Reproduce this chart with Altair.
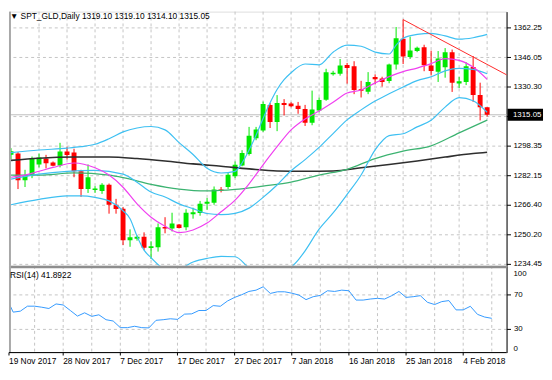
import altair as alt
import pandas as pd

# ---------------- data ----------------
opens = [1293.4, 1294.1, 1279.7, 1282.4, 1288.2, 1291.4, 1289.3, 1287.7, 1295.2, 1294.6,
         1284.5, 1274.9, 1274.4, 1273.9, 1277.3, 1266.4, 1264.3, 1247.2, 1248.0, 1249.1,
         1243.0, 1243.5, 1254.4, 1253.6, 1255.7, 1254.2, 1261.3, 1261.9, 1266.9, 1267.5,
         1274.7, 1276.0, 1281.8, 1287.7, 1293.8, 1302.3, 1306.6, 1320.4, 1311.1, 1321.4,
         1321.2, 1320.0, 1318.2, 1310.8, 1317.3, 1323.2, 1337.0, 1337.2, 1342.0, 1341.3,
         1328.9, 1327.5, 1335.5, 1334.6, 1333.3, 1342.2, 1356.1, 1346.3, 1349.5, 1351.6,
         1341.7, 1338.3, 1340.7, 1348.9, 1331.9, 1332.8, 1340.9, 1325.7, 1319.1]
highs = [1297.0, 1294.9, 1285.3, 1292.5, 1294.1, 1293.4, 1289.8, 1299.9, 1297.8, 1296.7,
         1285.3, 1288.2, 1276.5, 1278.1, 1277.9, 1269.6, 1265.1, 1253.1, 1249.9, 1251.5,
         1246.7, 1256.3, 1259.7, 1262.1, 1256.0, 1264.0, 1264.8, 1268.5, 1270.1, 1276.3,
         1276.0, 1283.7, 1289.8, 1295.9, 1308.5, 1308.5, 1322.2, 1321.4, 1325.7, 1323.5,
         1321.8, 1322.0, 1320.4, 1328.1, 1324.4, 1339.9, 1338.8, 1345.2, 1343.1, 1344.0,
         1333.4, 1338.1, 1336.9, 1335.6, 1342.7, 1362.5, 1366.5, 1357.3, 1351.9, 1352.9,
         1349.7, 1349.5, 1351.1, 1350.3, 1335.6, 1343.4, 1346.8, 1332.4, 1319.1]
lows = [1291.0, 1274.9, 1276.0, 1280.8, 1286.6, 1286.1, 1287.2, 1286.6, 1290.9, 1281.3,
        1270.7, 1272.8, 1272.8, 1272.3, 1261.6, 1261.6, 1244.6, 1243.7, 1247.0, 1241.9,
        1237.1, 1241.1, 1251.0, 1252.0, 1253.6, 1252.6, 1258.9, 1260.5, 1263.7, 1266.4,
        1273.1, 1274.9, 1280.8, 1287.2, 1293.0, 1301.3, 1305.8, 1307.9, 1306.2, 1314.7,
        1319.1, 1315.6, 1309.0, 1309.4, 1316.4, 1322.6, 1336.2, 1336.2, 1331.9, 1326.2,
        1324.4, 1326.2, 1331.6, 1330.3, 1332.1, 1339.5, 1342.5, 1345.2, 1348.9, 1338.6,
        1336.3, 1332.8, 1335.1, 1327.4, 1329.5, 1331.1, 1322.0, 1312.0, 1314.1]
closes = [1295.4, 1279.7, 1282.4, 1291.4, 1291.9, 1288.9, 1287.5, 1295.2, 1293.3, 1284.5,
          1274.9, 1281.3, 1275.2, 1277.3, 1266.4, 1264.1, 1247.2, 1248.8, 1249.1, 1243.2,
          1244.0, 1254.2, 1253.6, 1256.3, 1253.9, 1262.1, 1262.4, 1266.9, 1268.0, 1274.7,
          1274.0, 1282.6, 1288.1, 1294.4, 1303.7, 1307.1, 1320.9, 1311.1, 1321.4, 1320.4,
          1319.6, 1318.2, 1310.8, 1317.9, 1323.1, 1338.1, 1337.8, 1341.7, 1340.4, 1328.5,
          1328.0, 1332.8, 1334.3, 1332.8, 1342.2, 1356.4, 1346.6, 1349.8, 1351.3, 1341.8,
          1338.7, 1345.5, 1348.8, 1332.4, 1333.2, 1341.3, 1325.7, 1319.1, 1315.05]
rsi = [59.4, 49.1, 50.2, 56.0, 56.0, 54.8, 53.3, 58.6, 57.4, 51.0,
       44.5, 48.3, 44.2, 46.0, 40.3, 38.8, 31.1, 31.1, 32.7, 31.1,
       30.8, 39.6, 40.3, 41.4, 40.7, 46.8, 47.1, 51.0, 51.0, 56.7,
       55.9, 62.0, 66.2, 69.3, 73.1, 74.6, 78.5, 70.8, 72.7, 72.7,
       71.1, 68.9, 63.6, 67.0, 68.5, 73.9, 73.1, 74.6, 73.9, 63.1,
       63.1, 64.3, 65.1, 64.3, 68.2, 73.1, 66.2, 67.0, 68.2, 60.5,
       57.9, 61.3, 62.5, 51.7, 51.7, 55.9, 46.5, 43.4, 41.89]

# Bollinger bands (light blue)
ub_i = [0, 4, 8, 10, 12, 14, 16, 18, 20, 22, 24, 26, 28, 30, 32, 33, 34, 35, 36, 37,
        38, 39, 40, 42, 44, 46, 48, 50, 52, 54, 55, 56, 58, 60, 62, 64, 66, 68]
ub_v = [1294.6, 1296.0, 1297.0, 1297.8, 1299.1, 1302.1, 1305.8, 1307.9, 1308.7, 1306.9,
        1300.0, 1293.6, 1286.1, 1283.6, 1284.5, 1289.0, 1296.0, 1304.0, 1313.0, 1321.5,
        1328.7, 1334.0, 1337.8, 1342.5, 1342.0, 1348.9, 1352.7, 1352.1, 1348.9, 1347.9,
        1352.7, 1356.4, 1358.5, 1359.1, 1357.7, 1355.9, 1356.7, 1358.5]
mb_i = [0, 4, 8, 12, 16, 18, 20, 22, 24, 26, 28, 30, 32, 34, 36, 38, 40, 42, 44, 46,
        48, 50, 52, 54, 56, 58, 60, 62, 64, 66, 68]
mb_v = [1280.3, 1283.0, 1284.5, 1285.0, 1283.0, 1278.6, 1273.3, 1270.6, 1266.9, 1264.35,
        1261.7, 1261.1, 1261.8, 1264.6, 1270.4, 1277.1, 1284.8, 1290.8, 1297.4, 1304.9,
        1312.3, 1317.7, 1322.5, 1326.4, 1330.1, 1333.5, 1335.6, 1338.8, 1340.1, 1339.6, 1337.2]
lb_i = [0, 4, 8, 10, 12, 14, 16, 17, 18, 19, 20, 22, 24, 26, 28, 30, 32, 34, 36, 38,
        40, 41, 42, 44, 46, 48, 50, 52, 54, 56, 58, 60, 62, 64, 66, 68]
lb_v = [1266.4, 1269.3, 1271.2, 1271.2, 1270.4, 1268.5, 1263.2, 1258.9, 1249.4, 1241.9,
        1237.8, 1232.0, 1232.0, 1235.5, 1237.4, 1238.5, 1238.3, 1232.3, 1227.8, 1225.5,
        1232.5, 1236.5, 1241.5, 1253.2, 1262.0, 1272.0, 1282.5, 1296.1, 1303.8, 1304.8,
        1308.5, 1312.1, 1319.2, 1324.3, 1322.6, 1316.4]
# fast moving average (magenta)
pk_i = [0, 2, 4, 6, 9, 12, 14, 16, 18, 20, 22, 24, 26, 28, 30, 32, 34, 36, 38, 40,
        42, 44, 46, 48, 50, 52, 54, 56, 58, 60, 62, 64, 66, 68]
pk_v = [1281.3, 1282.4, 1284.5, 1286.6, 1289.0, 1286.4, 1282.45, 1275.9, 1266.9, 1259.7,
        1254.8, 1251.4, 1252.8, 1256.5, 1262.6, 1268.9, 1277.7, 1288.0, 1297.8, 1306.9,
        1312.8, 1317.05, 1321.8, 1326.8, 1328.45, 1332.3, 1335.7, 1338.4, 1340.3, 1342.7,
        1345.4, 1344.45, 1340.85, 1334.2]
# medium moving average (green)
gr_i = [0, 4, 9, 14, 16, 20, 24, 28, 32, 36, 40, 44, 48, 52, 56, 60, 64, 68]
gr_v = [1282.4, 1282.4, 1283.6, 1282.4, 1281.1, 1277.5, 1274.9, 1273.9, 1274.7, 1276.5,
        1278.6, 1282.4, 1285.6, 1291.4, 1295.4, 1298.3, 1305.3, 1312.2]
# slow moving average (dark)
bk_i = [0, 4, 9, 14, 18, 22, 26, 30, 34, 38, 42, 46, 50, 54, 58, 62, 66, 68]
bk_v = [1290.4, 1291.6, 1292.2, 1292.2, 1291.4, 1290.1, 1288.5, 1287.2, 1285.8, 1284.7,
        1284.5, 1284.7, 1286.4, 1288.2, 1290.1, 1292.2, 1294.1, 1294.8]
# red trendline
tl_i = [56, 71]
tl_v = [1366.5, 1336.2]

price_ticks = [1234.45, 1250.20, 1266.40, 1282.15, 1298.35, 1314.20, 1330.30, 1346.05, 1362.25]
date_idx = [0, 8, 16, 24, 32, 40, 48, 56, 64]
date_lbl = ["19 Nov 2017", "28 Nov 2017", "7 Dec 2017", "17 Dec 2017", "27 Dec 2017",
            "7 Jan 2018", "16 Jan 2018", "25 Jan 2018", "4 Feb 2018"]
grid_idx = list(range(4, 69, 4))
bid = 1315.05
header = "\u25BC SPT_GLD,Daily  1319.10 1319.10 1314.10 1315.05"
rsi_header = "RSI(14) 41.8922"

# ---------------- layout ----------------
FONT = "Liberation Sans, Arial, sans-serif"
W, HM, HR = 505, 258, 88
X_DOM = [0.414, 70.07]
P_DOM = [1233.4, 1370.8]
R_DOM = [2.2, 102.8]
GRID = "#C4C4C4"

xscale = alt.Scale(domain=X_DOM, nice=False, zero=False)
pscale = alt.Scale(domain=P_DOM, nice=False, zero=False)
price_axis = alt.Axis(orient="right", values=price_ticks, title=None,
                      labelExpr="(datum.value > 1314 && datum.value < 1315) ? '' : format(datum.value, '.2f')",
                      grid=True, gridDash=[3, 3], gridColor=GRID, domainColor="#000000",
                      tickColor="#000000", tickSize=4, labelPadding=2.5, labelFont=FONT,
                      labelFontSize=8, labelColor="#000000", labelFlush=False,
                      labelOverlap=False, zindex=0)


def X(f):
    return alt.X(f, type="quantitative", scale=xscale, axis=None)


def Y(f):
    return alt.Y(f, type="quantitative", scale=pscale, axis=price_axis)


cdf = pd.DataFrame({"i": list(range(len(opens))), "o": opens, "h": highs, "l": lows, "c": closes})
cdf["dir"] = ["up" if c >= o else "down" for o, c in zip(opens, closes)]
ccol = alt.Color("dir:N", scale=alt.Scale(domain=["up", "down"], range=["#00E800", "#FF0000"]),
                 legend=None)

vgrid = alt.Chart(pd.DataFrame({"i": grid_idx})).mark_rule(
    strokeDash=[3, 3], color=GRID, strokeWidth=1).encode(x=X("i"))
bidline = alt.Chart(pd.DataFrame({"v": [bid]})).mark_rule(color="#BDBDBD").encode(y=Y("v"))
wicks = alt.Chart(cdf).mark_rule(clip=True, strokeWidth=1).encode(
    x=X("i"), y=Y("l"), y2="h", color=ccol)
bodies = alt.Chart(cdf).mark_bar(clip=True, size=5).encode(
    x=X("i"), y=Y("o"), y2="c", color=ccol)


def line(ii, vv, color, width):
    return alt.Chart(pd.DataFrame({"i": ii, "v": vv})).mark_line(
        clip=True, interpolate="monotone", color=color, strokeWidth=width).encode(
        x=X("i"), y=Y("v"))


black = line(bk_i, bk_v, "#2E2E2E", 1.6)
green = line(gr_i, gr_v, "#3CB371", 1.3)
bbu = line(ub_i, ub_v, "#3EC0F2", 1.2)
bbm = line(mb_i, mb_v, "#3EC0F2", 1.2)
bbl = line(lb_i, lb_v, "#3EC0F2", 1.2)
pink = line(pk_i, pk_v, "#F040F0", 1.2)
trend = alt.Chart(pd.DataFrame({"i": tl_i, "v": tl_v})).mark_line(
    clip=True, color="#FF2A2A", strokeWidth=1).encode(x=X("i"), y=Y("v"))

head = alt.Chart(pd.DataFrame({"t": [header]})).mark_text(
    align="left", baseline="top", font=FONT, fontSize=8.5, color="#000000").encode(
    text="t:N", x=alt.value(1), y=alt.value(0.5))
box = alt.Chart(pd.DataFrame({"lo": [bid - 3.2], "hi": [bid + 3.2]})).mark_rect(
    color="#000000").encode(x=alt.value(W + 1), x2=alt.value(W + 37), y=Y("lo"), y2="hi")
boxtxt = alt.Chart(pd.DataFrame({"v": [bid], "t": ["1315.05"]})).mark_text(
    align="left", baseline="middle", font=FONT, fontSize=8, color="#FFFFFF").encode(
    x=alt.value(W + 6.5), y=Y("v"), text="t:N")
lborder = alt.Chart(pd.DataFrame({"a": [0]})).mark_rect(color="#A8A8A8").encode(
    x=alt.value(0), x2=alt.value(2), y=alt.value(0), y2=alt.value(HM))

main = alt.layer(vgrid, bidline, wicks, bodies, black, green, bbu, bbm, bbl, pink, trend,
                 lborder, head, box, boxtxt).properties(width=W, height=HM)

# ---------------- RSI panel ----------------
rxscale = alt.Scale(domain=X_DOM, nice=False, zero=False, clamp=True)
rsi_axis = alt.Axis(orient="right", values=[30, 70], title=None, grid=True, gridDash=[3, 3],
                    gridColor=GRID, domainColor="#000000", tickColor="#000000", tickSize=4,
                    labelPadding=3, labelFont=FONT, labelFontSize=8, labelColor="#000000",
                    labelFlush=False, zindex=0)


def RX(f):
    return alt.X(f, type="quantitative", scale=rxscale, axis=None)


rdf = pd.DataFrame({"i": list(range(len(rsi))), "v": rsi})
r_vgrid = alt.Chart(pd.DataFrame({"i": grid_idx})).mark_rule(
    strokeDash=[3, 3], color=GRID, strokeWidth=1).encode(x=RX("i"))
r_line = alt.Chart(rdf).mark_line(color="#3399FF", strokeWidth=1, clip=True).encode(
    x=RX("i"), y=alt.Y("v", type="quantitative",
                       scale=alt.Scale(domain=R_DOM, nice=False, zero=False), axis=rsi_axis))
sep = alt.Chart(pd.DataFrame({"a": [0]})).mark_rect(color="#8E8E8E").encode(
    x=alt.value(0), x2=alt.value(W), y=alt.value(0), y2=alt.value(2.5))
r_head = alt.Chart(pd.DataFrame({"t": [rsi_header]})).mark_text(
    align="left", baseline="middle", font=FONT, fontSize=8.5, color="#000000").encode(
    text="t:N", x=alt.value(1), y=alt.value(9.7))
r_extra = alt.Chart(pd.DataFrame({"t": ["100", "0"], "y": [8, 84]})).mark_text(
    align="left", baseline="middle", font=FONT, fontSize=8, color="#000000").encode(
    text="t:N", x=alt.value(W + 7), y=alt.Y("y:Q", scale=None))
ddf = pd.DataFrame({"i": date_idx, "t": date_lbl})
d_ticks = alt.Chart(ddf).mark_rule(color="#000000").encode(
    x=RX("i"), y=alt.value(HR), y2=alt.value(HR + 3))
d_text = alt.Chart(ddf).mark_text(align="left", baseline="middle", font=FONT, fontSize=8.5,
                                  color="#000000").encode(
    x=RX("i"), y=alt.value(HR + 9), text="t:N")
bottom = alt.Chart(pd.DataFrame({"a": [0]})).mark_rule(color="#000000").encode(
    x=alt.value(0), x2=alt.value(W), y=alt.value(HR))
r_lborder = alt.Chart(pd.DataFrame({"a": [0]})).mark_rect(color="#A8A8A8").encode(
    x=alt.value(0), x2=alt.value(2), y=alt.value(0), y2=alt.value(HR))

rsi_chart = alt.layer(r_vgrid, r_line, sep, r_lborder, r_head, r_extra, d_ticks, d_text,
                      bottom).properties(width=W, height=HR)

chart = alt.vconcat(main, rsi_chart, spacing=0, bounds="flush").properties(
    padding=0).configure_view(stroke=None).configure(background="#FFFFFF")

chart.save("out.html", embed_options={"renderer": "svg", "actions": False})
